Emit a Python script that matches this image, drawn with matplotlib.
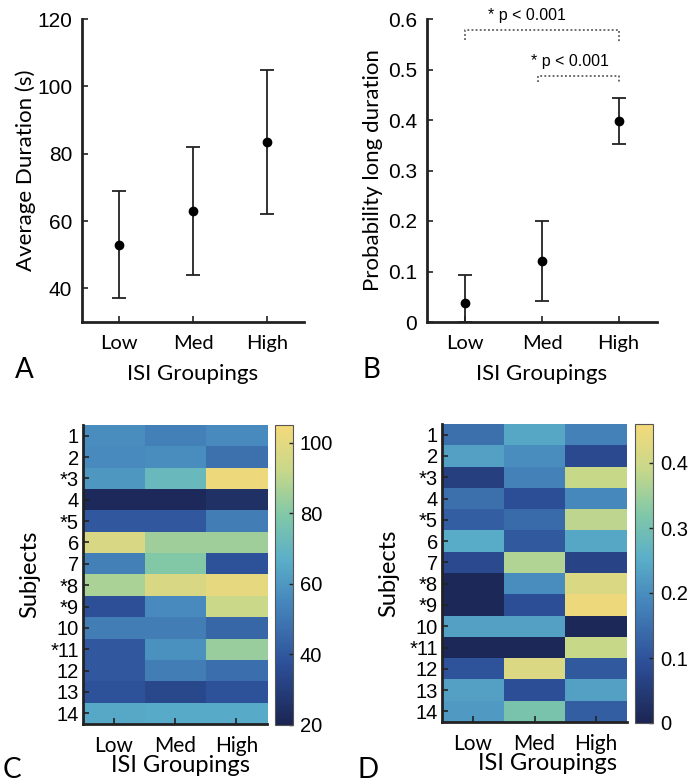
import matplotlib
matplotlib.use('Agg')
import matplotlib.pyplot as plt
import numpy as np
from matplotlib.colors import LinearSegmentedColormap

# data
groups = ['Low', 'Med', 'High']
dur_mean = [53, 63, 83.5]
dur_lo = [37, 44, 62]
dur_hi = [69, 82, 105]

prob_mean = [0.037, 0.12, 0.398]
prob_lo = [0.0, 0.042, 0.352]
prob_hi = [0.093, 0.2, 0.443]

subjects = ['1', '2', '*3', '4', '*5', '6', '7', '*8', '*9', '10', '*11', '12', '13', '14']

dur_heat = np.array([
    [57, 53, 56],
    [56, 57, 48],
    [60, 72, 103],
    [22, 22, 25],
    [40, 40, 52],
    [97, 85, 85],
    [53, 80, 38],
    [87, 97, 101],
    [37, 56, 93],
    [52, 52, 45],
    [40, 58, 84],
    [40, 52, 47],
    [38, 34, 38],
    [65, 66, 66],
])

prob_heat = np.array([
    [0.15, 0.24, 0.18],
    [0.23, 0.20, 0.08],
    [0.06, 0.18, 0.39],
    [0.15, 0.09, 0.19],
    [0.12, 0.14, 0.38],
    [0.25, 0.11, 0.24],
    [0.08, 0.37, 0.07],
    [0.01, 0.20, 0.42],
    [0.01, 0.09, 0.45],
    [0.23, 0.23, 0.01],
    [0.01, 0.01, 0.39],
    [0.10, 0.42, 0.11],
    [0.23, 0.09, 0.23],
    [0.22, 0.31, 0.12],
])

# washed out parula-like colormap
cmap = LinearSegmentedColormap.from_list('parula_soft', [
    (0.00, '#1b2552'),
    (0.20, '#2d4f98'),
    (0.40, '#4584bb'),
    (0.55, '#5aaec9'),
    (0.70, '#80c8a8'),
    (0.85, '#c8d88a'),
    (1.00, '#f4d97a'),
])

W, H = 699, 783
fig = plt.figure(figsize=(W / 100, H / 100), dpi=100)

def box(l, t, r, b):
    return [l / W, 1 - b / H, (r - l) / W, (b - t) / H]

label_font = 'Lato'
num_font = 'Liberation Sans'
axcol = '#222222'

def style_axes(ax):
    for s in ['top', 'right']:
        ax.spines[s].set_visible(False)
    for s in ['left', 'bottom']:
        ax.spines[s].set_linewidth(2)
        ax.spines[s].set_color(axcol)
    ax.tick_params(direction='in', length=4, width=1.2, color=axcol)

x = np.arange(1, 4)

# ---- A
axA = fig.add_axes(box(82, 19, 304, 322))
style_axes(axA)
yerr = [np.array(dur_mean) - np.array(dur_lo), np.array(dur_hi) - np.array(dur_mean)]
axA.errorbar(x, dur_mean, yerr=yerr, fmt='o', color='black', ecolor='#222222',
             markersize=6, capsize=5, elinewidth=1.3, capthick=1.3)
axA.set_xlim(0.5, 3.5)
axA.set_ylim(30, 120)
axA.set_yticks([40, 60, 80, 100, 120])
axA.set_xticks(x)
axA.set_xticklabels(groups, fontfamily=label_font, fontsize=14.5)
for t in axA.get_yticklabels():
    t.set_fontfamily(num_font)
    t.set_fontsize(15)
axA.tick_params(axis='x', pad=9)
axA.tick_params(axis='y', pad=7)
axA.set_xlabel('ISI Groupings', fontfamily=label_font, fontsize=16, labelpad=9)
axA.set_ylabel('Average Duration (s)', fontfamily=label_font, fontsize=16, labelpad=1)
fig.text(15 / W, 1 - 378 / H, 'A', fontfamily=label_font, fontsize=20)

# ---- B
axB = fig.add_axes(box(427, 19, 657, 322))
style_axes(axB)
yerr = [np.array(prob_mean) - np.array(prob_lo), np.array(prob_hi) - np.array(prob_mean)]
axB.errorbar(x, prob_mean, yerr=yerr, fmt='o', color='black', ecolor='#222222',
             markersize=6, capsize=5, elinewidth=1.3, capthick=1.3)
axB.set_xlim(0.5, 3.5)
axB.set_ylim(0, 0.6)
axB.set_yticks([0, 0.1, 0.2, 0.3, 0.4, 0.5, 0.6])
axB.set_yticklabels(['0', '0.1', '0.2', '0.3', '0.4', '0.5', '0.6'])
axB.set_xticks(x)
axB.set_xticklabels(groups, fontfamily=label_font, fontsize=14.5)
for t in axB.get_yticklabels():
    t.set_fontfamily(num_font)
    t.set_fontsize(15)
axB.tick_params(axis='x', pad=9)
axB.tick_params(axis='y', pad=7)
axB.set_xlabel('ISI Groupings', fontfamily=label_font, fontsize=16, labelpad=9)
axB.set_ylabel('Probability long duration', fontfamily=label_font, fontsize=16, labelpad=4)
fig.text(363 / W, 1 - 378 / H, 'B', fontfamily=label_font, fontsize=20)

# significance brackets
axB.plot([1, 1, 3, 3], [0.558, 0.578, 0.578, 0.552], ls=(0, (1.2, 1.5)), color='#444444',
         lw=1.1, clip_on=False)
axB.plot([1.95, 1.95, 3, 3], [0.475, 0.487, 0.487, 0.473], ls=(0, (1.2, 1.5)), color='#444444',
         lw=1.1, clip_on=False)
axB.text(1.8, 0.598, '* p < 0.001', ha='center', va='baseline', fontfamily=num_font,
         fontsize=11.5, clip_on=False)
axB.text(2.37, 0.506, '* p < 0.001', ha='center', va='baseline', fontfamily=num_font,
         fontsize=11.5)

# ---- heatmaps
def heat(axbox, cbox, data, vmin, vmax, cticks, cticklabels, letter, lx, xlab_x):
    ax = fig.add_axes(box(*axbox))
    im = ax.imshow(data, aspect='auto', cmap=cmap, vmin=vmin, vmax=vmax,
                   interpolation='nearest')
    for s in ['top', 'right']:
        ax.spines[s].set_visible(False)
    for s in ['left', 'bottom']:
        ax.spines[s].set_linewidth(2)
        ax.spines[s].set_color(axcol)
    ax.tick_params(direction='in', length=4, width=1.2, color=axcol)
    ax.set_yticks(np.arange(len(subjects)))
    ax.set_yticklabels(subjects, fontfamily=num_font, fontsize=14.5)
    ax.set_xticks(np.arange(3))
    ax.set_xticklabels(groups, fontfamily=label_font, fontsize=15)
    ax.tick_params(axis='x', pad=9)
    ax.tick_params(axis='y', pad=3)
    ax.set_xlabel('ISI Groupings', fontfamily=label_font, fontsize=17, labelpad=1)
    ax.xaxis.set_label_coords(xlab_x, -0.105)
    ax.set_ylabel('Subjects', fontfamily=label_font, fontsize=17, labelpad=7)
    cax = fig.add_axes(box(*cbox))
    cb = fig.colorbar(im, cax=cax, ticks=cticks)
    cb.ax.set_yticklabels(cticklabels, fontfamily=num_font, fontsize=14.5)
    cb.outline.set_edgecolor('#555555')
    cb.outline.set_linewidth(0.8)
    cb.ax.tick_params(direction='in', length=3, width=1, color=axcol, pad=5)
    fig.text(lx / W, 1 - 778 / H, letter, fontfamily=label_font, fontsize=20)
    return ax

heat((83, 425, 267, 724), (275, 425, 293, 725), dur_heat, 20, 105,
     [20, 40, 60, 80, 100], ['20', '40', '60', '80', '100'], 'C', 3, 0.53)
heat((442, 424, 627, 722), (635, 424, 653, 723), prob_heat, 0, 0.46,
     [0, 0.1, 0.2, 0.3, 0.4], ['0', '0.1', '0.2', '0.3', '0.4'], 'D', 357, 0.57)

fig.savefig('out.png', dpi=100)
